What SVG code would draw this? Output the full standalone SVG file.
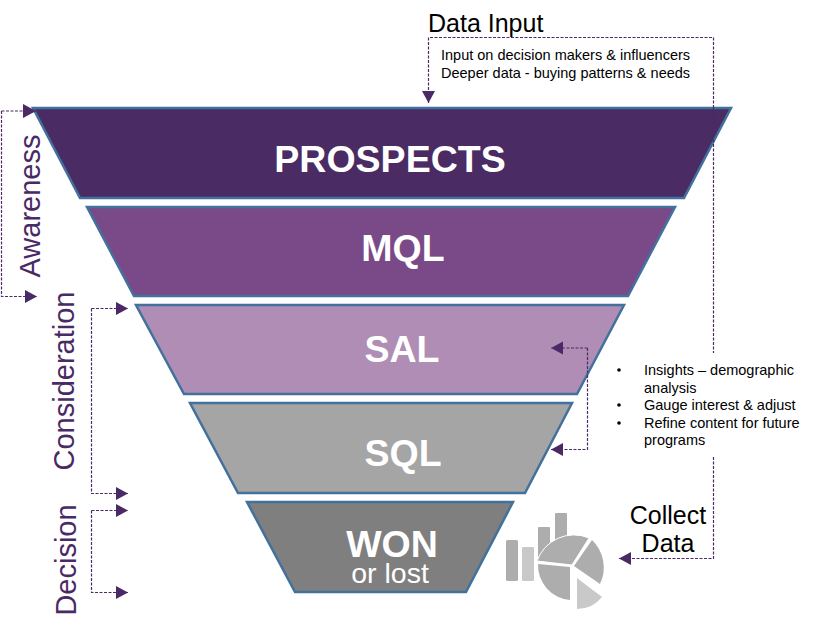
<svg xmlns="http://www.w3.org/2000/svg" width="821" height="634" viewBox="0 0 821 634">
<style>
text{font-family:"Liberation Sans",Arial,sans-serif}
.b{fill:#fff;font-weight:bold;text-anchor:middle;font-size:37.500px}
.o{fill:#fff;text-anchor:middle;font-size:28.500px}
.f{stroke:#41719c;stroke-width:2.500}
.c{fill:none;stroke:#4a2a66;stroke-width:1.200;stroke-dasharray:3 1.500}
.v{fill:#4a2a66;font-size:29px;text-anchor:middle}
.k{fill:#000;font-size:25px}
.s{fill:#000;font-size:14.500px}
.g{fill:#adadad}.l{fill:#c9c9c9}
</style>
<defs>
<marker id="a" markerUnits="userSpaceOnUse" markerWidth="13" markerHeight="14" refX="12" refY="6.500" orient="auto"><path d="M0 0L12 6.500L0 13Z" fill="#4a2a66"/></marker>
</defs>
<g id="prospects"><polygon class="f" points="33,108 731,108 684,198 80,198" fill="#4a2b63"/><text class="b" x="390" y="172">PROSPECTS</text></g>
<g id="mql"><polygon class="f" points="87,207 675,207 628,296 134,296" fill="#7a4a88"/><text class="b" x="403" y="261">MQL</text></g>
<g id="sal"><polygon class="f" points="136,305 624,305 577,394 184,394" fill="#b08db5"/><text class="b" x="402" y="362">SAL</text></g>
<g id="sql"><polygon class="f" points="190,403 572,403 525,493 238,493" fill="#a5a5a5"/><text class="b" x="403" y="466">SQL</text></g>
<g id="won"><polygon class="f" points="247,502 513,502 466,592 295,592" fill="#7f7f7f"/><text class="b" x="392" y="557">WON</text><text class="o" x="390" y="583">or lost</text></g>
<g id="connectors">
<path class="c" d="M1.500 111V296.500H37" marker-end="url(#a)"/>
<path class="c" d="M36 111H1.500" />
<path class="c" d="M91.500 308.500V493.500H128" marker-end="url(#a)"/>
<path class="c" d="M91.500 308.500H128" marker-end="url(#a)"/>
<path class="c" d="M91.500 510.500V592.500H128" marker-end="url(#a)"/>
<path class="c" d="M91.500 510.500H128" marker-end="url(#a)"/>
<path class="c" d="M713.500 108V37.500H428.500V103" marker-end="url(#a)"/>
<path class="c" d="M713.500 108V353"/>
<path class="c" d="M713.500 457V558.500H619" marker-end="url(#a)"/>
<path class="c" d="M587.500 348V449.500H551" marker-end="url(#a)"/>
<path class="c" d="M587.500 348H551" marker-end="url(#a)"/>
<path d="M23 104L36 111L23 118Z" fill="#4a2a66"/>
</g>
<g id="stage-labels">
<text class="v" transform="translate(40 206) rotate(-90)">Awareness</text>
<text class="v" transform="translate(74 381) rotate(-90)">Consideration</text>
<text class="v" transform="translate(76 560) rotate(-90)">Decision</text>
</g>
<g id="data-input"><text class="k" x="428" y="32">Data Input</text>
<text class="s" x="441" y="60">Input on decision makers &amp; influencers</text>
<text class="s" x="441" y="78">Deeper data - buying patterns &amp; needs</text></g>
<g id="insights">
<circle cx="619" cy="370" r="1.800"/><circle cx="619" cy="405" r="1.800"/><circle cx="619" cy="423" r="1.800"/>
<text class="s" x="644" y="375">Insights – demographic</text>
<text class="s" x="644" y="393">analysis</text>
<text class="s" x="644" y="410">Gauge interest &amp; adjust</text>
<text class="s" x="644" y="428">Refine content for future</text>
<text class="s" x="644" y="445">programs</text></g>
<g id="collect-data"><text class="k" x="668" y="524" text-anchor="middle">Collect</text><text class="k" x="668" y="552" text-anchor="middle">Data</text></g>
<g id="chart-icon">
<rect class="g" x="506" y="540" width="12" height="41" rx="1.500"/>
<rect class="l" x="522" y="547" width="12" height="34" rx="1"/>
<rect class="g" x="538" y="527" width="12" height="30" rx="1"/>
<rect class="g" x="555" y="513" width="12" height="30" rx="1"/>
<path class="g" d="M537 561A39 39 0 0 1 589 538L572 565Z" stroke="#fff" stroke-width="1"/>
<path class="g" d="M538 564L570 567V600A35 35 0 0 1 538 564Z"/>
<path class="g" d="M574 566L592 540A38 38 0 0 1 600 584Z"/>
<path class="l" d="M577 578L602 597A32 32 0 0 1 577 609Z"/>
</g>
</svg>
